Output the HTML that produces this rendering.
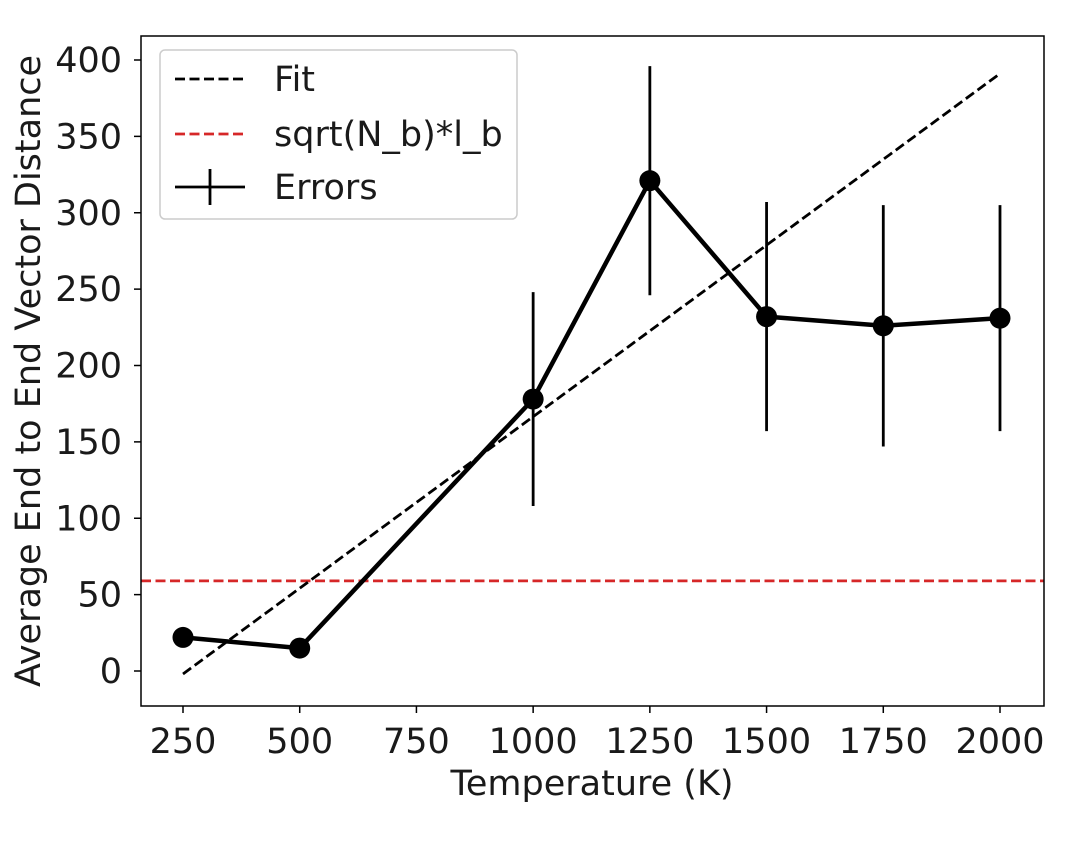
<!DOCTYPE html>
<html><head><meta charset="utf-8"><style>
html,body{margin:0;padding:0;background:#fff;}
svg{display:block;font-family:"DejaVu Sans","Liberation Sans",sans-serif;}
</style></head><body>
<svg id="chart" width="1086" height="848" viewBox="0 0 1086 848">
<rect x="0" y="0" width="1086" height="848" fill="#fff"/>
<g id="plot"></g>
</svg>
<script>
const temps = [250, 500, 1000, 1250, 1500, 1750, 2000];
const distances = [22, 15, 178, 321, 232, 226, 231];
const errors = [0, 0, 70, 75, 75, 79, 74];
const fitSlope = 0.2246;
const fitIntercept = -58.1;
const referenceValue = 59;
const xTicks = [250, 500, 750, 1000, 1250, 1500, 1750, 2000];
const yTicks = [0, 50, 100, 150, 200, 250, 300, 350, 400];
const legendLabels = ["Fit", "sqrt(N_b)*l_b", "Errors"];

const NS = "http://www.w3.org/2000/svg";
const g = document.getElementById('plot');
const X = v => 183 + (v - 250) * (817 / 1750);
const Y = v => 671 - v * (611 / 400);
function mk(tag, attrs, parent) {
  const e = document.createElementNS(NS, tag);
  for (const k in attrs) e.setAttribute(k, attrs[k]);
  (parent || g).appendChild(e);
  return e;
}
const L = 141, R = 1044, T = 36, B = 706;
const FS = 35;

let e = mk('line', {x1: L, x2: R, y1: Y(referenceValue), y2: Y(referenceValue), stroke: '#d62728', 'stroke-width': 2.8, 'stroke-dasharray': '10,4.5'});



e = mk('line', {x1: X(temps[0]), y1: Y(fitSlope * temps[0] + fitIntercept), x2: X(temps[temps.length-1]), y2: Y(fitSlope * temps[temps.length-1] + fitIntercept), stroke: '#000', 'stroke-width': 2.8, 'stroke-dasharray': '10,4.5'});



temps.forEach((t, i) => {
  if (errors[i] > 0) {
    const b = mk('line', {x1: X(t), x2: X(t), y1: Y(distances[i] + errors[i]), y2: Y(distances[i] - errors[i]), stroke: '#000', 'stroke-width': 2.8});
    
    
  }
});
e = mk('polyline', {points: temps.map((t, i) => X(t) + ',' + Y(distances[i])).join(' '), fill: 'none', stroke: '#000', 'stroke-width': 4.5, 'stroke-linejoin': 'round'});


temps.forEach((t, i) => {
  const c = mk('circle', {cx: X(t), cy: Y(distances[i]), r: 10.5, fill: '#000'});
  
  
});

e = mk('rect', {x: L, y: T, width: R - L, height: B - T, fill: 'none', stroke: '#000', 'stroke-width': 1.5});



xTicks.forEach(t => {
  const tk = mk('line', {x1: X(t), x2: X(t), y1: B, y2: B + 7, stroke: '#000', 'stroke-width': 1.5});
  
  
  const tx = mk('text', {x: X(t), y: B + 47, 'font-size': FS, 'text-anchor': 'middle', fill: '#1a1a1a'});
  tx.textContent = t;
  
  
});
yTicks.forEach(t => {
  const tk = mk('line', {x1: L - 7, x2: L, y1: Y(t), y2: Y(t), stroke: '#000', 'stroke-width': 1.5});
  
  
  const tx = mk('text', {x: L - 19, y: Y(t) + 12, 'font-size': FS, 'text-anchor': 'end', fill: '#1a1a1a'});
  tx.textContent = t;
  
  
});

e = mk('text', {x: 592, y: 795, 'font-size': FS, 'text-anchor': 'middle', fill: '#1a1a1a'});
e.textContent = 'Temperature (K)';


e = mk('text', {x: 0, y: 0, 'font-size': FS, 'text-anchor': 'middle', fill: '#1a1a1a', transform: 'translate(40,371) rotate(-90)'});
e.textContent = 'Average End to End Vector Distance';



e = mk('rect', {x: 160, y: 50, width: 357, height: 169, rx: 5, fill: '#fff', 'fill-opacity': 0.85, stroke: '#ccc', 'stroke-width': 1.5});


const ly = [79, 134, 187];
const styles = [{stroke: '#000', dash: '10,4.5'}, {stroke: '#d62728', dash: '10,4.5'}, {stroke: '#000', dash: ''}];
legendLabels.forEach((lab, i) => {
  const h = mk('line', {x1: 175, x2: 245, y1: ly[i], y2: ly[i], stroke: styles[i].stroke, 'stroke-width': 2.8});
  if (styles[i].dash) h.setAttribute('stroke-dasharray', styles[i].dash);
  
  
  if (i === 2) {
    const v = mk('line', {x1: 210, x2: 210, y1: ly[i] - 18, y2: ly[i] + 18, stroke: '#000', 'stroke-width': 2.8});
    
    
  }
  const tx = mk('text', {x: 274, y: ly[i] + 12, 'font-size': FS, fill: '#1a1a1a'});
  tx.textContent = lab;
  
  
});
</script>
</body></html>
